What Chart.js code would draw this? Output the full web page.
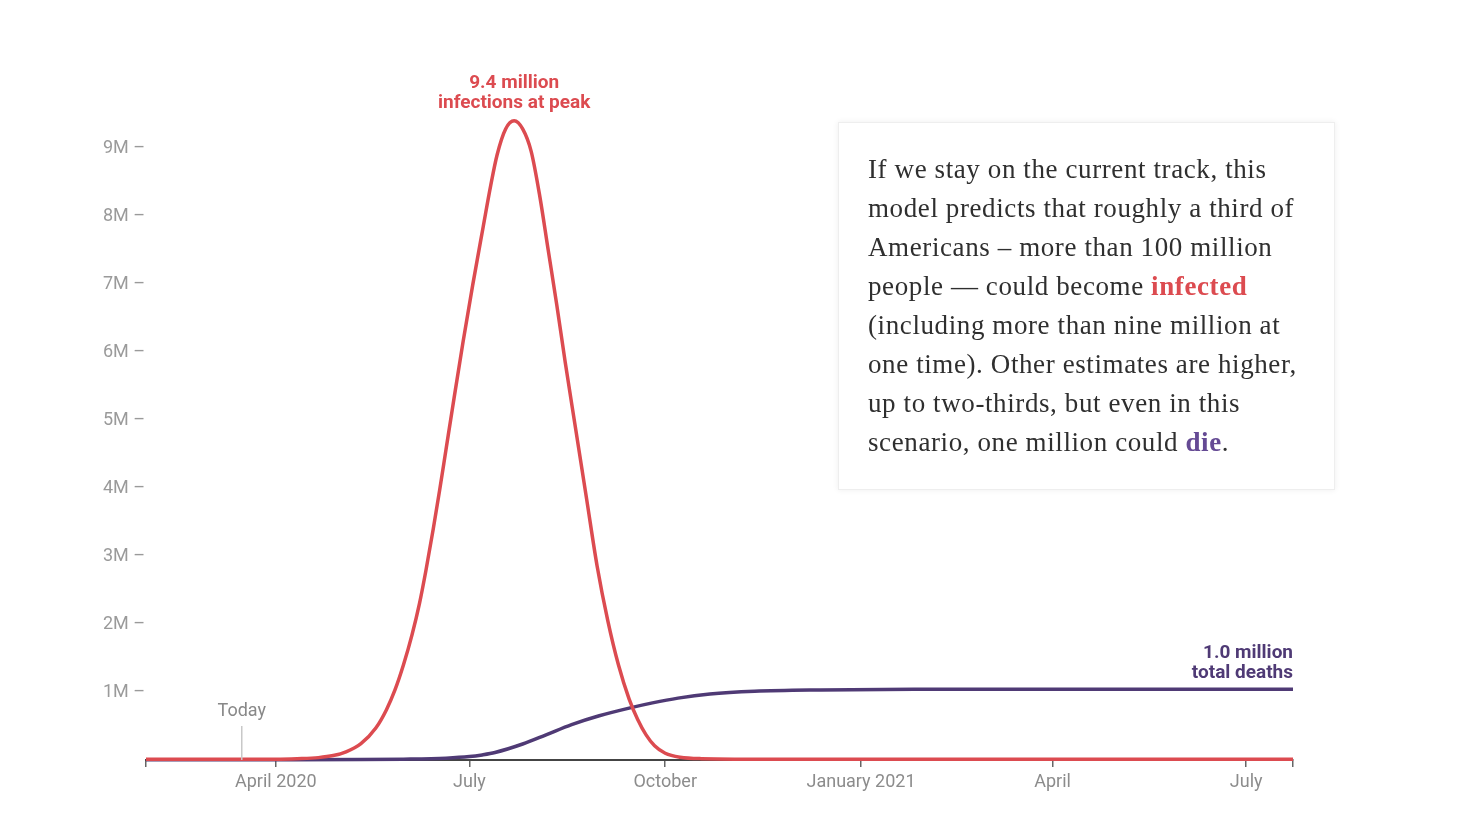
<!DOCTYPE html>
<html>
<head>
<meta charset="utf-8">
<script src="https://cdn.jsdelivr.net/npm/chart.js@4.4.1/dist/chart.umd.min.js"></script>
<style>
  html, body { margin: 0; padding: 0; background: #fff; }
  #wrap { position: relative; width: 1468px; height: 838px; }
  #note {
    position: absolute; left: 838px; top: 122px; width: 466px; height: 339px;
    padding: 27px 0 0 29px; background: #fff;
    border: 1px solid #eee; box-shadow: 0 0 6px rgba(0,0,0,0.07);
    font-family: "Liberation Serif", Georgia, serif; font-size: 27px; letter-spacing: 0.6px;
    line-height: 39px; color: #2f2f2f;
  }
  #note .inf { color: #dc4b50; font-weight: bold; }
  #note .die { color: #654a94; font-weight: bold; }
</style>
</head>
<body>
<div id="wrap">
  <canvas id="chart" width="1468" height="838"></canvas>
  <div id="note">If we stay on the current track, this<br>model predicts that roughly a third of<br>Americans – more than 100 million<br>people — could become <span class="inf">infected</span><br>(including more than nine million at<br>one time). Other estimates are higher,<br>up to two-thirds, but even in this<br>scenario, one million could <span class="die">die</span>.</div>
</div>
<script>
// days counted from April 1, 2020
var axisMin = -61;
var axisMax = 478;
var todayDay = -16;

var tickDays = [0, 91, 183, 275, 365, 456];
var tickLabels = ['April 2020', 'July', 'October', 'January 2021', 'April', 'July'];

// currently infected, millions
var infectionDays = [-61, -20, 0, 10, 20, 27, 33, 40, 47, 52, 56, 60, 64, 67.5, 70.5, 74, 77, 80, 83, 88,
    92.5, 97.5, 101, 104, 108, 112, 116, 120, 124, 128, 132, 136, 141, 146, 151, 156, 161, 166, 170, 174,
    178, 183, 190, 200, 240, 478];
var infections = [0.01, 0.01, 0.012, 0.02, 0.035, 0.065, 0.12, 0.24, 0.47, 0.74, 1.03, 1.4, 1.84, 2.3, 2.78,
    3.4, 3.97, 4.57, 5.17, 6.15, 6.98, 7.85, 8.45, 8.9, 9.28, 9.4, 9.28, 8.95, 8.3, 7.5, 6.7, 5.85, 4.85,
    3.85, 2.85, 2.05, 1.4, 0.9, 0.6, 0.37, 0.21, 0.1, 0.04, 0.02, 0.012, 0.01];

// total deaths, millions
var deathDays = [-61, 0, 40, 60, 80, 91, 97, 103, 116, 127, 139, 152, 167, 177, 189, 204, 225, 256, 300, 478];
var deaths = [0.002, 0.003, 0.006, 0.012, 0.027, 0.05, 0.075, 0.11, 0.235, 0.37, 0.52, 0.65, 0.77, 0.84,
    0.91, 0.97, 1.01, 1.03, 1.04, 1.04];

var red = '#dc4b50';
var purple = '#4f3a75';
var labelFont = '"Liberation Sans Narrow", "Roboto", Arial, sans-serif';

function toPoints(days, vals) {
    var pts = [];
    for (var i = 0; i < days.length; i++) {
        pts.push({ x: days[i], y: vals[i] * 1e6 });
    }
    return pts;
}

var notes = {
    id: 'notes',
    afterDatasetsDraw: function (chart) {
        var ctx = chart.ctx;
        var xs = chart.scales.x, ys = chart.scales.y;
        ctx.save();

        // today marker
        var tx = xs.getPixelForValue(todayDay);
        var base = ys.getPixelForValue(0);
        ctx.strokeStyle = '#c8c8c8';
        ctx.lineWidth = 1.5;
        ctx.beginPath();
        ctx.moveTo(tx, base);
        ctx.lineTo(tx, base - 34);
        ctx.stroke();
        ctx.fillStyle = '#888';
        ctx.font = '18px ' + labelFont;
        ctx.textAlign = 'center';
        ctx.textBaseline = 'bottom';
        ctx.fillText('Today', tx, base - 40);

        // peak label
        var pk = 0;
        for (var i = 1; i < infections.length; i++) {
            if (infections[i] > infections[pk]) pk = i;
        }
        var px = xs.getPixelForValue(infectionDays[pk]);
        var py = ys.getPixelForValue(infections[pk] * 1e6);
        ctx.fillStyle = red;
        ctx.font = 'bold 19px ' + labelFont;
        ctx.fillText(infections[pk].toFixed(1) + ' million', px, py - 28);
        ctx.fillText('infections at peak', px, py - 8);

        // deaths label
        var last = deaths.length - 1;
        var dx = xs.getPixelForValue(deathDays[last]);
        var dy = ys.getPixelForValue(deaths[last] * 1e6);
        ctx.fillStyle = purple;
        ctx.textAlign = 'right';
        ctx.fillText(deaths[last].toFixed(1) + ' million', dx, dy - 27);
        ctx.fillText('total deaths', dx, dy - 7);
        ctx.restore();
    }
};

var ctx = document.getElementById('chart');
var myChart = new Chart(ctx, {
    type: 'line',
    data: {
        datasets: [
            {
                label: 'Infections',
                data: toPoints(infectionDays, infections),
                borderColor: red,
                borderWidth: 3.5,
                pointRadius: 0,
                cubicInterpolationMode: 'monotone',
                clip: 6
            },
            {
                label: 'Deaths',
                data: toPoints(deathDays, deaths),
                borderColor: purple,
                borderWidth: 3.5,
                pointRadius: 0,
                cubicInterpolationMode: 'monotone',
                clip: 6
            }
        ]
    },
    options: {
        responsive: false,
        animation: false,
        layout: { padding: { top: 80, right: 175, left: 0, bottom: 0 } },
        plugins: {
            legend: { display: false },
            tooltip: { enabled: false }
        },
        scales: {
            x: {
                type: 'linear',
                min: axisMin,
                max: axisMax,
                afterBuildTicks: function (scale) {
                    var t = [{ value: axisMin }];
                    for (var i = 0; i < tickDays.length; i++) t.push({ value: tickDays[i] });
                    t.push({ value: axisMax });
                    scale.ticks = t;
                },
                afterFit: function (scale) { scale.height = 78; },
                ticks: {
                    autoSkip: false,
                    maxRotation: 0,
                    padding: 5,
                    color: '#8c8c8c',
                    font: { family: labelFont, size: 18 },
                    callback: function (value, index) {
                        if (index === 0 || index > tickDays.length) return '';
                        return tickLabels[index - 1];
                    }
                },
                grid: { drawOnChartArea: false, drawTicks: true, tickLength: 7, color: '#666', lineWidth: 1.5 },
                border: { display: true, color: '#444', width: 2 }
            },
            y: {
                min: 0,
                max: 10e6,
                afterFit: function (scale) { scale.width = 146; },
                ticks: {
                    stepSize: 1e6,
                    padding: 1,
                    color: '#9a9a9a',
                    font: { family: labelFont, size: 18 },
                    callback: function (value) {
                        if (value === 0 || value > 9e6) return '';
                        return (value / 1e6) + 'M –';
                    }
                },
                grid: { display: false, drawTicks: false },
                border: { display: false }
            }
        }
    },
    plugins: [notes]
});
</script>
</body>
</html>
